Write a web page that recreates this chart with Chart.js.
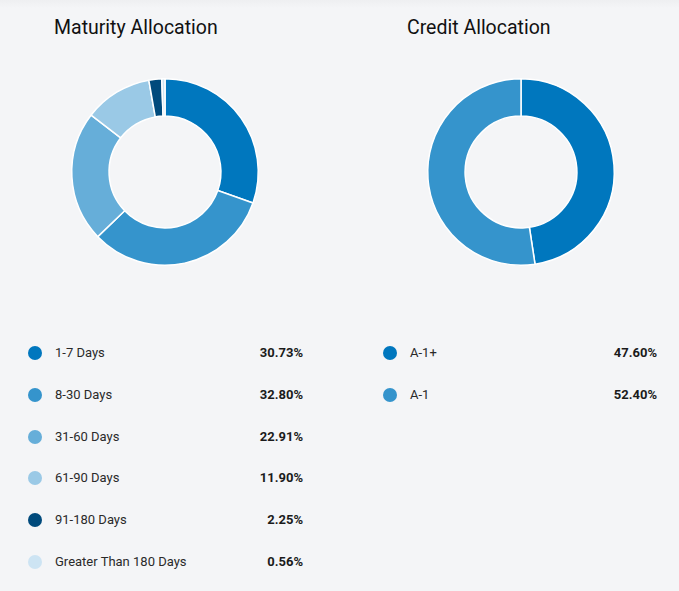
<!DOCTYPE html>
<html>
<head>
<meta charset="utf-8">
<script src="https://cdn.jsdelivr.net/npm/chart.js@4/dist/chart.umd.min.js"></script>
<style>
  html, body { margin: 0; padding: 0; }
  body {
    width: 679px; height: 591px; position: relative; overflow: hidden;
    background: linear-gradient(#eeeff1 0px, #f4f5f7 8px, #f4f5f7 100%);
    font-family: Roboto, "Noto Sans", sans-serif; color: #1b1b1b;
  }
  .title { position: absolute; top: 16px; font-size: 19.5px; font-weight: 400; color: #111; }
  .donut { position: absolute; top: 75px; width: 194px; height: 194px; }
  .legend { position: absolute; top: 339px; }
  .row { position: relative; height: 41.8px; font-size: 13px; }
  .dot { position: absolute; left: 0; top: 7px; width: 14px; height: 14px; border-radius: 50%; }
  .lab { position: absolute; left: 27px; top: 6px; color: #2a2a2a; }
  .val { position: absolute; right: 0; top: 6px; font-weight: 700; color: #1b1b1b; }
</style>
</head>
<body>
<div class="title" style="left:54px">Maturity Allocation</div>
<div class="title" style="left:407px">Credit Allocation</div>
<div class="donut" style="left:68px"><canvas id="maturity"></canvas></div>
<div class="donut" style="left:424px"><canvas id="credit"></canvas></div>
<div class="legend" id="legend1" style="left:28px; width:275px"></div>
<div class="legend" id="legend2" style="left:383px; width:274px"></div>
<script>
/*-----data-----*/
var maturityLabels = ['1-7 Days', '8-30 Days', '31-60 Days', '61-90 Days', '91-180 Days', 'Greater Than 180 Days'];
var maturityValues = [30.73, 32.80, 22.91, 11.90, 2.25, 0.56];
var maturityColors = ['#0077be', '#3594cc', '#66aed9', '#9ac9e6', '#004a7c', '#cde4f3'];

var creditLabels = ['A-1+', 'A-1'];
var creditValues = [47.60, 52.40];
var creditColors = ['#0077be', '#3594cc'];

/*-----legend-----*/
function makeLegend(id, labels, values, colors) {
    var html = '';
    for (var i = 0; i < labels.length; i++) {
        html += "<div class='row'><span class='dot' style='background:" + colors[i] + "'></span>" +
            "<span class='lab'>" + labels[i] + "</span>" +
            "<span class='val'>" + values[i].toFixed(2) + "%</span></div>";
    }
    document.getElementById(id).innerHTML = html;
}

/*-----donut-----*/
function makeDonut(id, labels, values, colors) {
    var ctx = document.getElementById(id).getContext('2d');
    return new Chart(ctx, {
        type: 'doughnut',
        data: {
            labels: labels,
            datasets: [{
                data: values,
                backgroundColor: colors,
                borderColor: '#ffffff',
                borderWidth: 1.5
            }]
        },
        options: {
            responsive: true,
            maintainAspectRatio: false,
            animation: false,
            cutout: '60%',
            layout: { padding: 3 },
            plugins: { legend: { display: false }, tooltip: { enabled: false } }
        }
    });
}

makeDonut('maturity', maturityLabels, maturityValues, maturityColors);
makeDonut('credit', creditLabels, creditValues, creditColors);
makeLegend('legend1', maturityLabels, maturityValues, maturityColors);
makeLegend('legend2', creditLabels, creditValues, creditColors);
</script>
</body>
</html>
